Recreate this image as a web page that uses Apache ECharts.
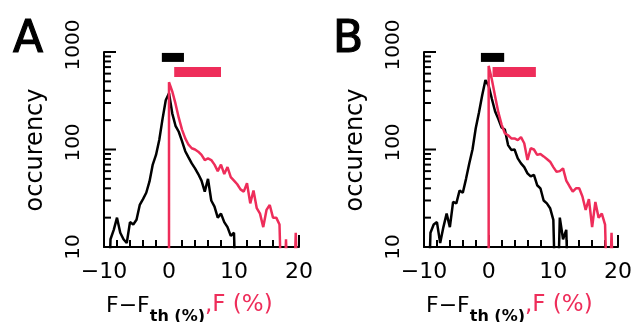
<!DOCTYPE html>
<html>
<head>
<meta charset="utf-8">
<script src="https://cdn.jsdelivr.net/npm/echarts@6/dist/echarts.min.js"></script>
<style>
  html, body { margin: 0; padding: 0; background: #fff; }
  #chart { width: 635px; height: 322px; }
</style>
</head>
<body>
<div id="chart"></div>
<script>
// Histogram bin centres (%), shared by every curve
const bins = [-10,-9.5,-9,-8.5,-8,-7.5,-7,-6.5,-6,-5.5,-5,-4.5,-4,-3.5,-3,-2.5,-2,-1.5,-1,-0.5,
  0,0.5,1,1.5,2,2.5,3,3.5,4,4.5,5,5.5,6,6.5,7,7.5,8,8.5,9,9.5,
  10,10.5,11,11.5,12,12.5,13,13.5,14,14.5,15,15.5,16,16.5,17,17.5,18,18.5,19,19.5,20];

// Panel A: occurrences of F - F_th (black) and of F (red)
const countsA_dev = [0,0,12,15,20,14,12,11,18,17,19,27,31,36,47,70,88,125,205,320,
  378,235,175,152,122,96,83,72,64,56,48,37,50,30,26,20,22,18,16,13,
  14,0,0,0,0,0,0,0,0,0,0,0,0,0,0,0,0,0,0,0,0];
const countsA_f = [0,0,0,0,0,0,0,0,0,0,0,0,0,0,0,0,0,0,0,0,
  490,395,295,212,160,130,112,103,100,95,88,78,81,78,70,60,70,56,66,52,
  48,44,39,37,45,28,38,25,22,16,24,27,20,20,17,0,12,0,0,14,0];

// Panel B
const countsB_dev = [0,0,14,17,18,11,16,22,16,29,28,38,36,50,72,100,165,240,360,515,
  450,330,245,205,168,160,111,99,100,81,72,66,57,53,55,43,40,30,28,25,
  19,0,20,12,15,0,0,0,0,0,0,0,0,0,0,0,0,0,0,0,0];
const countsB_f = [0,0,0,0,0,0,0,0,0,0,0,0,0,0,0,0,0,0,0,0,
  720,520,350,240,180,147,140,130,130,125,134,116,78,103,100,88,90,85,80,75,
  66,59,60,64,48,42,37,40,40,33,24,31,16,29,20,22,17,0,14,0,0];

// Ranges marked by the bars above each histogram (%)
const rangeA_dev = [-1.1, 2.3];
const rangeA_f = [0.8, 8.0];
const rangeB_dev = [-1.2, 2.4];
const rangeB_f = [0.6, 7.3];

// Axis ticks
const xLabelTicks = [-10, 0, 10, 20];
const yMajorTicks = [10, 100, 1000];
const yMinorTicks = [20, 30, 40, 50, 60, 70, 80, 90, 200, 300, 400, 500, 600, 700, 800, 900];

const panelLetters = ['A', 'B'];
const yTitle = 'occurency';

const RED = '#ee2d5a';
const FONT = '"DejaVu Sans", sans-serif';
// empty bins sit one decade below the axis floor and get clipped
const EMPTY = 1;

function curve(counts, fromZero) {
  const pts = [];
  bins.forEach((b, i) => {
    if (fromZero && b < 0) return;
    pts.push([b, counts[i] > 0 ? counts[i] : EMPTY]);
  });
  // F is never negative: that histogram rises straight up from the baseline at 0
  if (fromZero) pts.unshift([0, EMPTY]);
  return pts;
}

// inward tick marks on the log axis, placed through the axis scale
function logTicks(i, values, len) {
  return {
    type: 'custom', xAxisIndex: i, yAxisIndex: i, clip: false, silent: true,
    data: values.map(v => [-10, v]),
    encode: { x: 0, y: 1 },
    renderItem: (params, api) => {
      const p = api.coord([api.value(0), api.value(1)]);
      return {
        type: 'line',
        shape: { x1: p[0], y1: p[1], x2: p[0] + len, y2: p[1] },
        style: { stroke: '#000', lineWidth: 2 }
      };
    }
  };
}

const tickStyle = { color: '#000', width: 2 };
const grids = [], xAxes = [], yAxes = [], series = [], graphics = [];

function addPanel(i, left, dev, f, rDev, rF) {
  grids.push({ left: left, top: 52, width: 195, height: 195 });
  xAxes.push({
    gridIndex: i, type: 'value', min: -10, max: 20, interval: 10,
    axisLine: { show: true, onZero: false, lineStyle: tickStyle },
    axisTick: { show: true, inside: true, length: 12, lineStyle: tickStyle },
    minorTick: { show: true, splitNumber: 5, length: 7, lineStyle: tickStyle },
    splitLine: { show: false }, minorSplitLine: { show: false },
    axisLabel: {
      margin: 14, fontSize: 22, color: '#000', fontFamily: FONT,
      customValues: xLabelTicks,
      formatter: v => (v < 0 ? '\u2212' + (-v) : String(v))
    }
  });
  yAxes.push({
    gridIndex: i, type: 'log', logBase: 10, min: 10, max: 1000,
    axisLine: { show: true, onZero: false, lineStyle: tickStyle },
    axisTick: { show: false },
    axisLabel: {
      rotate: 90, margin: 20, color: '#000', customValues: yMajorTicks,
      formatter: v => (v === 10 ? '{lo|' + v + '}' : '{hi|' + v + '}'),
      rich: {
        lo: { fontSize: 20, fontFamily: FONT, color: '#000' },
        hi: { fontSize: 20, fontFamily: FONT, color: '#000', padding: [0, 0, 0, 14] }
      }
    },
    splitLine: { show: false }
  });
  series.push(logTicks(i, yMajorTicks, 12));
  series.push(logTicks(i, yMinorTicks, 7));
  const base = { type: 'line', xAxisIndex: i, yAxisIndex: i, symbol: 'none', showSymbol: false, animation: false };
  series.push(Object.assign({}, base, { data: curve(dev, false), clip: true, lineStyle: { color: '#000', width: 2.5 } }));
  series.push(Object.assign({}, base, { data: curve(f, true), clip: true, lineStyle: { color: RED, width: 2.5 } }));
  series.push(Object.assign({}, base, { data: [[rDev[0], 880], [rDev[1], 880]], clip: false, lineStyle: { color: '#000', width: 9, cap: 'butt' } }));
  series.push(Object.assign({}, base, { data: [[rF[0], 624], [rF[1], 624]], clip: false, lineStyle: { color: RED, width: 10, cap: 'butt' } }));

  const ox = left - 104;
  graphics.push({ type: 'text', x: 13 + ox, y: 19,
    style: { text: panelLetters[i], fontSize: 44, fontFamily: FONT, fill: '#000', stroke: '#000', lineWidth: 1.2 } });
  graphics.push({ type: 'text', x: 36 + ox, y: 150, rotation: Math.PI / 2,
    style: { text: yTitle, fontSize: 24, fontFamily: FONT, fill: '#000', align: 'center', verticalAlign: 'middle' } });
  graphics.push({ type: 'text', x: 106 + ox, y: 299,
    style: {
      text: '{a|F\u2212F}{s|th (%)}{r|,F (%)}',
      rich: {
        a: { fill: '#000', fontSize: 22, fontFamily: FONT, lineHeight: 26, padding: [0, 0, 8, 0], verticalAlign: 'bottom' },
        s: { fill: '#000', fontSize: 16, fontWeight: 'bold', fontFamily: FONT, lineHeight: 18, verticalAlign: 'bottom' },
        r: { fill: RED, fontSize: 23, fontFamily: FONT, lineHeight: 26, padding: [0, 0, 8, 0], verticalAlign: 'bottom' }
      }
    } });
}

addPanel(0, 104, countsA_dev, countsA_f, rangeA_dev, rangeA_f);
addPanel(1, 424, countsB_dev, countsB_f, rangeB_dev, rangeB_f);

const chart = echarts.init(document.getElementById('chart'), null, { renderer: 'canvas' });
chart.setOption({
  animation: false,
  backgroundColor: '#fff',
  grid: grids, xAxis: xAxes, yAxis: yAxes, series: series, graphic: graphics
});
</script>
</body>
</html>
